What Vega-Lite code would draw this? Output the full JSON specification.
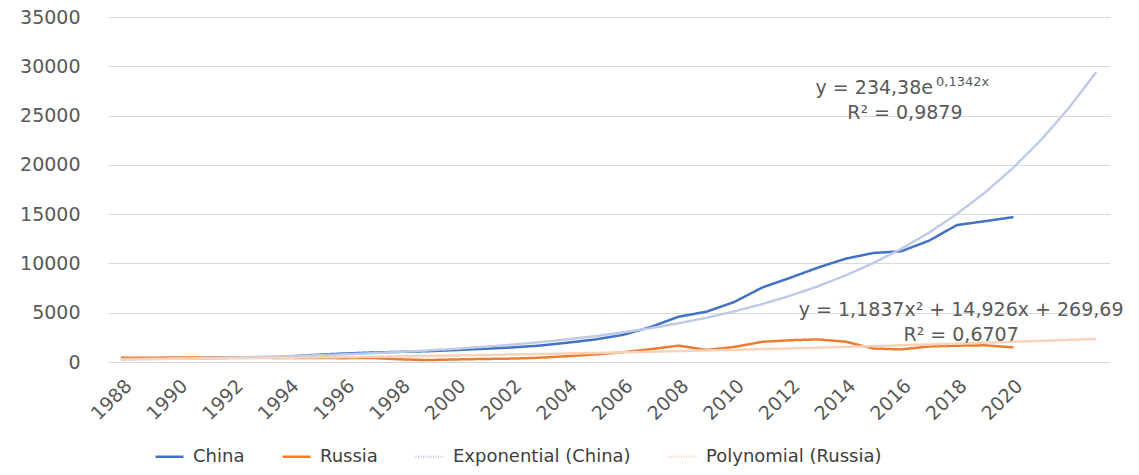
{
  "$schema": "https://vega.github.io/schema/vega-lite/v6.json",
  "autosize": "none",
  "width": 1002,
  "height": 345,
  "padding": {"left": 108, "top": 17, "right": 29, "bottom": 113},
  "background": "white",
  "config": {
    "font": "DejaVu Sans",
    "view": {"stroke": null},
    "axis": {"labelColor": "#595959", "labelFont": "DejaVu Sans", "labelFontSize": 19, "domain": false, "ticks": false, "title": null},
    "legend": {"labelFont": "DejaVu Sans", "labelColor": "#404040", "labelFontSize": 18, "labelLimit": 400}
  },
  "datasets": {
    "series": [
      {"year": 1988, "series": "China", "value": 312},
      {"year": 1989, "series": "China", "value": 348},
      {"year": 1990, "series": "China", "value": 361},
      {"year": 1991, "series": "China", "value": 383},
      {"year": 1992, "series": "China", "value": 427},
      {"year": 1993, "series": "China", "value": 445},
      {"year": 1994, "series": "China", "value": 564},
      {"year": 1995, "series": "China", "value": 734},
      {"year": 1996, "series": "China", "value": 863},
      {"year": 1997, "series": "China", "value": 961},
      {"year": 1998, "series": "China", "value": 1029},
      {"year": 1999, "series": "China", "value": 1094},
      {"year": 2000, "series": "China", "value": 1211},
      {"year": 2001, "series": "China", "value": 1339},
      {"year": 2002, "series": "China", "value": 1471},
      {"year": 2003, "series": "China", "value": 1660},
      {"year": 2004, "series": "China", "value": 1955},
      {"year": 2005, "series": "China", "value": 2286},
      {"year": 2006, "series": "China", "value": 2752},
      {"year": 2007, "series": "China", "value": 3550},
      {"year": 2008, "series": "China", "value": 4594},
      {"year": 2009, "series": "China", "value": 5102},
      {"year": 2010, "series": "China", "value": 6087},
      {"year": 2011, "series": "China", "value": 7552},
      {"year": 2012, "series": "China", "value": 8532},
      {"year": 2013, "series": "China", "value": 9570},
      {"year": 2014, "series": "China", "value": 10476},
      {"year": 2015, "series": "China", "value": 11062},
      {"year": 2016, "series": "China", "value": 11233},
      {"year": 2017, "series": "China", "value": 12310},
      {"year": 2018, "series": "China", "value": 13895},
      {"year": 2019, "series": "China", "value": 14280},
      {"year": 2020, "series": "China", "value": 14688},
      {"year": 1988, "series": "Russia", "value": 430},
      {"year": 1989, "series": "Russia", "value": 440},
      {"year": 1990, "series": "Russia", "value": 450},
      {"year": 1991, "series": "Russia", "value": 450},
      {"year": 1992, "series": "Russia", "value": 460},
      {"year": 1993, "series": "Russia", "value": 435},
      {"year": 1994, "series": "Russia", "value": 395},
      {"year": 1995, "series": "Russia", "value": 396},
      {"year": 1996, "series": "Russia", "value": 392},
      {"year": 1997, "series": "Russia", "value": 405},
      {"year": 1998, "series": "Russia", "value": 271},
      {"year": 1999, "series": "Russia", "value": 196},
      {"year": 2000, "series": "Russia", "value": 260},
      {"year": 2001, "series": "Russia", "value": 307},
      {"year": 2002, "series": "Russia", "value": 345},
      {"year": 2003, "series": "Russia", "value": 430},
      {"year": 2004, "series": "Russia", "value": 591},
      {"year": 2005, "series": "Russia", "value": 764},
      {"year": 2006, "series": "Russia", "value": 990},
      {"year": 2007, "series": "Russia", "value": 1300},
      {"year": 2008, "series": "Russia", "value": 1661},
      {"year": 2009, "series": "Russia", "value": 1223},
      {"year": 2010, "series": "Russia", "value": 1525},
      {"year": 2011, "series": "Russia", "value": 2046},
      {"year": 2012, "series": "Russia", "value": 2208},
      {"year": 2013, "series": "Russia", "value": 2292},
      {"year": 2014, "series": "Russia", "value": 2059},
      {"year": 2015, "series": "Russia", "value": 1363},
      {"year": 2016, "series": "Russia", "value": 1277},
      {"year": 2017, "series": "Russia", "value": 1575},
      {"year": 2018, "series": "Russia", "value": 1657},
      {"year": 2019, "series": "Russia", "value": 1693},
      {"year": 2020, "series": "Russia", "value": 1489},
      {"year": 1988, "series": "Exponential (China)", "value": 268},
      {"year": 1989, "series": "Exponential (China)", "value": 307},
      {"year": 1990, "series": "Exponential (China)", "value": 351},
      {"year": 1991, "series": "Exponential (China)", "value": 401},
      {"year": 1992, "series": "Exponential (China)", "value": 458},
      {"year": 1993, "series": "Exponential (China)", "value": 524},
      {"year": 1994, "series": "Exponential (China)", "value": 600},
      {"year": 1995, "series": "Exponential (China)", "value": 686},
      {"year": 1996, "series": "Exponential (China)", "value": 784},
      {"year": 1997, "series": "Exponential (China)", "value": 897},
      {"year": 1998, "series": "Exponential (China)", "value": 1026},
      {"year": 1999, "series": "Exponential (China)", "value": 1173},
      {"year": 2000, "series": "Exponential (China)", "value": 1342},
      {"year": 2001, "series": "Exponential (China)", "value": 1534},
      {"year": 2002, "series": "Exponential (China)", "value": 1755},
      {"year": 2003, "series": "Exponential (China)", "value": 2007},
      {"year": 2004, "series": "Exponential (China)", "value": 2295},
      {"year": 2005, "series": "Exponential (China)", "value": 2624},
      {"year": 2006, "series": "Exponential (China)", "value": 3001},
      {"year": 2007, "series": "Exponential (China)", "value": 3432},
      {"year": 2008, "series": "Exponential (China)", "value": 3925},
      {"year": 2009, "series": "Exponential (China)", "value": 4489},
      {"year": 2010, "series": "Exponential (China)", "value": 5134},
      {"year": 2011, "series": "Exponential (China)", "value": 5871},
      {"year": 2012, "series": "Exponential (China)", "value": 6714},
      {"year": 2013, "series": "Exponential (China)", "value": 7678},
      {"year": 2014, "series": "Exponential (China)", "value": 8781},
      {"year": 2015, "series": "Exponential (China)", "value": 10042},
      {"year": 2016, "series": "Exponential (China)", "value": 11485},
      {"year": 2017, "series": "Exponential (China)", "value": 13134},
      {"year": 2018, "series": "Exponential (China)", "value": 15020},
      {"year": 2019, "series": "Exponential (China)", "value": 17178},
      {"year": 2020, "series": "Exponential (China)", "value": 19645},
      {"year": 2021, "series": "Exponential (China)", "value": 22466},
      {"year": 2022, "series": "Exponential (China)", "value": 25692},
      {"year": 2023, "series": "Exponential (China)", "value": 29382},
      {"year": 1988, "series": "Polynomial (Russia)", "value": 286},
      {"year": 1989, "series": "Polynomial (Russia)", "value": 304},
      {"year": 1990, "series": "Polynomial (Russia)", "value": 325},
      {"year": 1991, "series": "Polynomial (Russia)", "value": 348},
      {"year": 1992, "series": "Polynomial (Russia)", "value": 374},
      {"year": 1993, "series": "Polynomial (Russia)", "value": 402},
      {"year": 1994, "series": "Polynomial (Russia)", "value": 432},
      {"year": 1995, "series": "Polynomial (Russia)", "value": 465},
      {"year": 1996, "series": "Polynomial (Russia)", "value": 500},
      {"year": 1997, "series": "Polynomial (Russia)", "value": 537},
      {"year": 1998, "series": "Polynomial (Russia)", "value": 577},
      {"year": 1999, "series": "Polynomial (Russia)", "value": 619},
      {"year": 2000, "series": "Polynomial (Russia)", "value": 664},
      {"year": 2001, "series": "Polynomial (Russia)", "value": 711},
      {"year": 2002, "series": "Polynomial (Russia)", "value": 760},
      {"year": 2003, "series": "Polynomial (Russia)", "value": 812},
      {"year": 2004, "series": "Polynomial (Russia)", "value": 866},
      {"year": 2005, "series": "Polynomial (Russia)", "value": 922},
      {"year": 2006, "series": "Polynomial (Russia)", "value": 981},
      {"year": 2007, "series": "Polynomial (Russia)", "value": 1042},
      {"year": 2008, "series": "Polynomial (Russia)", "value": 1105},
      {"year": 2009, "series": "Polynomial (Russia)", "value": 1171},
      {"year": 2010, "series": "Polynomial (Russia)", "value": 1239},
      {"year": 2011, "series": "Polynomial (Russia)", "value": 1310},
      {"year": 2012, "series": "Polynomial (Russia)", "value": 1383},
      {"year": 2013, "series": "Polynomial (Russia)", "value": 1458},
      {"year": 2014, "series": "Polynomial (Russia)", "value": 1536},
      {"year": 2015, "series": "Polynomial (Russia)", "value": 1616},
      {"year": 2016, "series": "Polynomial (Russia)", "value": 1698},
      {"year": 2017, "series": "Polynomial (Russia)", "value": 1783},
      {"year": 2018, "series": "Polynomial (Russia)", "value": 1870},
      {"year": 2019, "series": "Polynomial (Russia)", "value": 1959},
      {"year": 2020, "series": "Polynomial (Russia)", "value": 2051},
      {"year": 2021, "series": "Polynomial (Russia)", "value": 2146},
      {"year": 2022, "series": "Polynomial (Russia)", "value": 2242},
      {"year": 2023, "series": "Polynomial (Russia)", "value": 2341}
    ],
    "notesMain": [
      {"year": 2017.14, "value": 27797, "label": "y = 234,38e"}
    ],
    "notesSup": [
      {"year": 2017.25, "value": 28400, "label": "0,1342x"}
    ],
    "notesCenter": [
      {"year": 2016.13, "value": 25261, "label": "R² = 0,9879"},
      {"year": 2018.15, "value": 5275, "label": "y = 1,1837x² + 14,926x + 269,69"},
      {"year": 2018.15, "value": 2739, "label": "R² = 0,6707"}
    ]
  },
  "encoding": {
    "x": {
      "field": "year", "type": "quantitative",
      "scale": {"domain": [1987.5, 2023.5], "nice": false, "zero": false},
      "axis": {"values": [1988, 1990, 1992, 1994, 1996, 1998, 2000, 2002, 2004, 2006, 2008, 2010, 2012, 2014, 2016, 2018, 2020], "format": "d", "labelAngle": -45, "labelPadding": 14, "grid": false, "labelFlush": false}
    },
    "y": {
      "field": "value", "type": "quantitative",
      "scale": {"domain": [0, 35000], "nice": false},
      "axis": {"values": [0, 5000, 10000, 15000, 20000, 25000, 30000, 35000], "format": "d", "labelPadding": 28, "gridColor": "#D9D9D9", "gridWidth": 1.2}
    }
  },
  "layer": [
    {
      "data": {"name": "series"},
      "mark": {"type": "line", "strokeCap": "round", "strokeJoin": "round"},
      "encoding": {
        "color": {
          "field": "series", "type": "nominal",
          "scale": {"domain": ["China", "Russia", "Exponential (China)", "Polynomial (Russia)"], "range": ["#4472C4", "#ED7D31", "#BECAE8", "#F8D3BA"]},
          "legend": {"title": null, "orient": "none", "direction": "horizontal", "legendX": 46, "legendY": 424, "symbolType": "stroke", "symbolSize": 784, "columnPadding": 32, "labelOffset": 8}
        },
        "strokeWidth": {
          "field": "series", "type": "nominal",
          "scale": {"domain": ["China", "Russia", "Exponential (China)", "Polynomial (Russia)"], "range": [2.5, 2.5, 0.8, 0.8]},
          "legend": {"title": null, "orient": "none", "direction": "horizontal", "legendX": 46, "legendY": 424, "symbolType": "stroke", "symbolSize": 784, "columnPadding": 32, "labelOffset": 8}
        },
        "strokeDash": {
          "field": "series", "type": "nominal",
          "scale": {"domain": ["China", "Russia", "Exponential (China)", "Polynomial (Russia)"], "range": [[1, 0], [1, 0], [1, 1.5], [1, 1.5]]},
          "legend": {"title": null, "orient": "none", "direction": "horizontal", "legendX": 46, "legendY": 424, "symbolType": "stroke", "symbolSize": 784, "columnPadding": 32, "labelOffset": 8}
        }
      }
    },
    {
      "data": {"name": "notesMain"},
      "mark": {"type": "text", "color": "#595959", "font": "DejaVu Sans", "fontSize": 19, "align": "right", "baseline": "middle"},
      "encoding": {"text": {"field": "label"}}
    },
    {
      "data": {"name": "notesSup"},
      "mark": {"type": "text", "color": "#595959", "font": "DejaVu Sans", "fontSize": 13, "align": "left", "baseline": "middle"},
      "encoding": {"text": {"field": "label"}}
    },
    {
      "data": {"name": "notesCenter"},
      "mark": {"type": "text", "color": "#595959", "font": "DejaVu Sans", "fontSize": 19, "align": "center", "baseline": "middle"},
      "encoding": {"text": {"field": "label"}}
    }
  ]
}
